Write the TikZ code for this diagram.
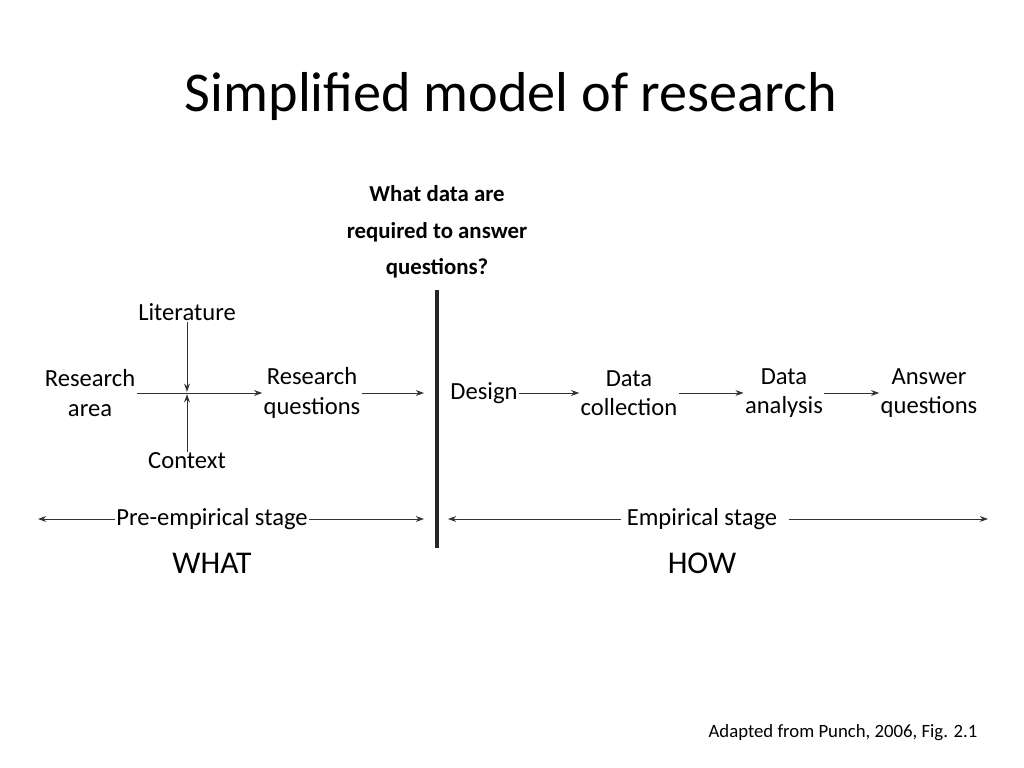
\documentclass[tikz,border=0pt]{standalone}
\usepackage{fontspec}
\setmainfont{Carlito}
\usetikzlibrary{arrows.meta}
\begin{document}
\begin{tikzpicture}[x=0.03cm,y=-0.03cm,
  box_node/.style={align=center,font=\fontsize{21}{25}\selectfont,inner sep=1pt},
  big_node/.style={font=\fontsize{27}{30}\selectfont,inner sep=0pt},
  flow/.style={-{Stealth[length=7pt,width=5pt]},draw=black!80,line width=0.8pt}]

    \useasboundingbox (0,0) rectangle (1024,768);
    \node[font=\fontsize{48}{56}\selectfont] (title) at (511,97) {Simplified model of research};
    \node[box_node,font=\bfseries\fontsize{19.5}{31}\selectfont] (ask) at (437,232) {What data are\\required to answer\\questions?};

    \node[box_node] (area) at (90,393) {Research\\area};
    \node[box_node] (lit) at (187,312) {Literature};
    \node[box_node] (ctx) at (187,461) {Context};
    \node[box_node] (rq) at (312,393) {Research\\questions};
    \node[box_node] (design) at (484,393) {Design};
    \node[box_node] (coll) at (629,393) {Data\\collection};
    \node[box_node] (anal) at (784,393) {Data\\analysis};
    \node[box_node] (ans) at (929,393) {Answer\\questions};
    \coordinate (mid) at (187,393);

    \draw[line width=3pt,black!85] (437,290) -- (437,548);

    \begin{scope}[every path/.style={flow}]
    \draw (area) -- (rq);
    \draw (lit) -- ([yshift=1]mid);
    \draw (ctx) -- ([yshift=-1]mid);
    \draw (rq) -- (424,393);
    \draw (design) -- (coll);
    \draw (coll) -- (anal);
    \draw (anal) -- (ans);
    \end{scope}

    \node[box_node] (pre) at (212,519) {Pre-empirical stage};
    \node[box_node] (emp) at (702,519) {Empirical stage};
    \coordinate (preL) at (38,519);
    \coordinate (preR) at (424,519);
    \coordinate (empL) at (448,519);
    \coordinate (empR) at (988,519);
    \begin{scope}[every path/.style={flow}]
    \draw (pre) -- (preL);
    \draw (pre) -- (preR);
    \draw (emp.west) ++(-4,0) -- (empL);
    \draw (emp.east) ++(10,0) -- (empR);
    \end{scope}

    \node[big_node] (what) at (212,563) {WHAT};
    \node[big_node] (how) at (702,563) {HOW};
    \node[box_node,font=\fontsize{16}{20}\selectfont] (src) at (843,733) {Adapted from Punch, 2006, Fig. 2.1};
\end{tikzpicture}
\end{document}
